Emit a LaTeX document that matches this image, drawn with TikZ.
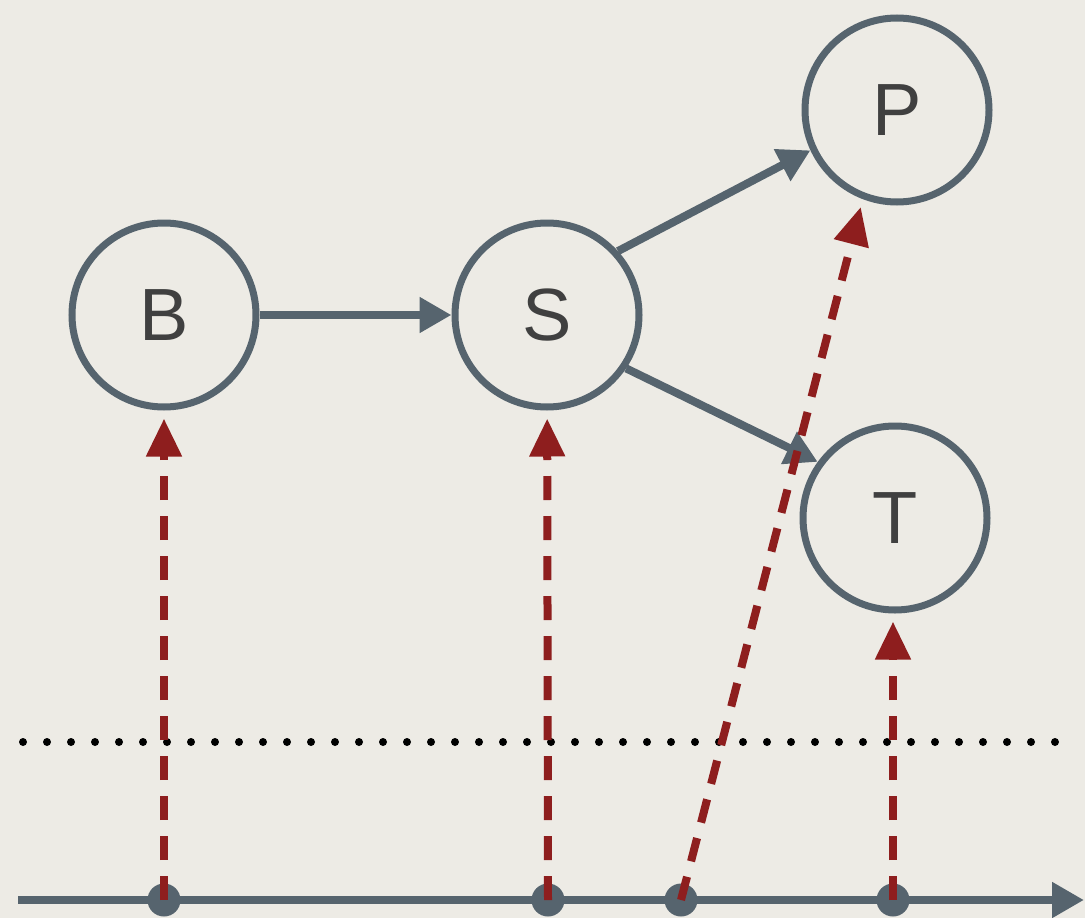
\documentclass[tikz,border=0pt]{standalone}
\usepackage{fontspec}
\setmainfont{Liberation Sans}
\usetikzlibrary{arrows.meta}
\definecolor{paper}{HTML}{EDEBE5}
\definecolor{slate}{HTML}{56646E}
\definecolor{brick}{HTML}{8E1E1E}
\definecolor{ink}{HTML}{404040}
\tikzset{
  state/.style={circle, draw=slate, line width=7pt, minimum size=184pt, inner sep=0pt,
    font=\fontsize{74}{74}\selectfont, text=ink},
  dot/.style={circle, fill=slate, minimum size=33pt, inner sep=0pt},
  flow/.style={draw=slate, line width=8pt, -{Triangle[length=32pt,width=34pt]}},
  link/.style={draw=brick, line width=8pt, dash pattern=on 24pt off 16pt,
    -{Triangle[length=38pt,width=34pt]}, shorten >=8pt},
}
\begin{document}
\begin{tikzpicture}[x=1pt,y=-1pt]
\fill[paper] (0,0) rectangle (1085,918);
\useasboundingbox (0,0) rectangle (1085,918);
% dotted line
\coordinate (dl) at (23,742);
\coordinate (dr) at (1060,742);
\draw[black, line width=8pt, line cap=round, dash pattern=on 0pt off 24pt] (dl) -- (dr);
% axis
\coordinate (a0) at (18,900);
\coordinate (a1) at (1084,900);
\draw[flow] (a0) -- (a1);
% nodes
\node[state] (B) at (164,315) {B};
\node[state] (S) at (547,315) {S};
\node[state] (P) at (897,110) {P};
\node[state] (T) at (895,518) {T};
\node[dot] (d1) at (164,900) {};
\node[dot] (d2) at (548,900) {};
\node[dot] (d3) at (681,900) {};
\node[dot] (d4) at (893,900) {};
% gray arrows
\draw[flow] (B) -- (S);
\draw[flow] (S.42) -- (P.205);
\draw[flow] (S.-34) -- (T.144);
% red arrows
\draw[link] (d1.center) -- (B);
\draw[link] (d2.center) -- (S);
\draw[link] (d3.center) -- (P.249);
\draw[link] (d4.center) -- (d4 |- T.south);
\end{tikzpicture}
\end{document}
